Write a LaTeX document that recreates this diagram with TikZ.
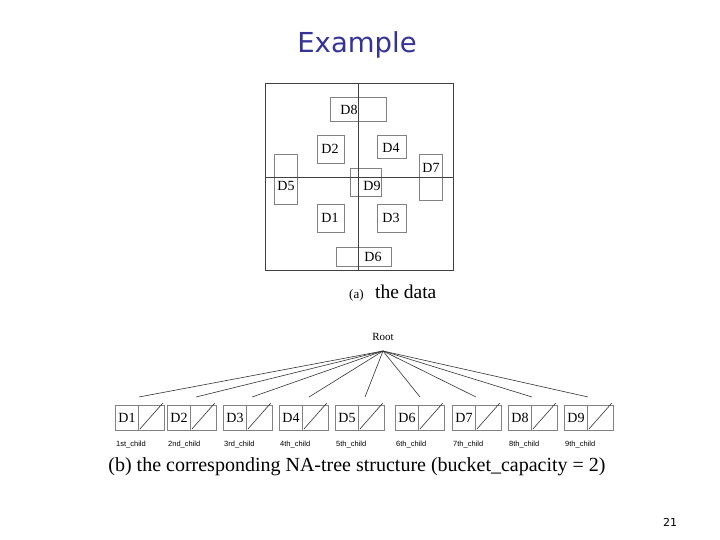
\documentclass[tikz,border=0pt]{standalone}
\usepackage{fontspec}
\setmainfont{Liberation Serif}
\newfontfamily\titlefont{DejaVu Sans}
\newfontfamily\labfont{Liberation Sans}
\definecolor{titleblue}{RGB}{51,51,153}
\definecolor{boxgray}{RGB}{130,130,130}
\begin{document}
\begin{tikzpicture}[x=1pt,y=-1pt,
  qbox/.style={draw=boxgray, line width=0.8pt},
  qline/.style={draw=black!75, line width=0.8pt},
  qlab/.style={inner sep=0pt, font=\fontsize{14}{14}\selectfont},
  cellL/.style={draw=boxgray, line width=0.9pt, minimum width=23pt, minimum height=25pt, inner sep=0pt, anchor=north west, font=\fontsize{14}{14}\selectfont},
  cellR/.style={draw=boxgray, line width=0.9pt, minimum width=26pt, minimum height=25pt, inner sep=0pt, anchor=north west},
  clab/.style={inner sep=0pt, anchor=west, font=\labfont\fontsize{7.5}{7.5}\selectfont},
  edge/.style={draw=black!80, line width=0.6pt}]
\useasboundingbox (0,0) rectangle (720,540);
% title
\node[font=\titlefont\fontsize{27.5}{27.5}\selectfont, text=titleblue] (title) at (357,45) {Example};
% page number
\node[font=\titlefont\fontsize{11}{11}\selectfont] (page) at (670,522) {21};
% (a) the data
\draw[qbox] (330,97) rectangle (386,121);
\draw[qbox] (317,135) rectangle (344,163);
\draw[qbox] (377,135) rectangle (406,158);
\draw[qbox] (274,154) rectangle (297,204);
\draw[qbox] (419,154) rectangle (442,200);
\draw[qbox] (350,168) rectangle (381,196);
\draw[qbox] (317,204) rectangle (344,232);
\draw[qbox] (377,204) rectangle (406,232);
\draw[qbox] (336,247) rectangle (391,266);
\draw[qline] (265,83) rectangle (453,270);
\draw[qline] (358,83) -- (358,270);
\draw[qline] (265,177) -- (453,177);
\node[qlab] (lD8) at (349,110) {D8};
\node[qlab] (lD2) at (330,149) {D2};
\node[qlab] (lD4) at (391,148) {D4};
\node[qlab] (lD5) at (286,186) {D5};
\node[qlab] (lD7) at (431,168) {D7};
\node[qlab] (lD9) at (372,186) {D9};
\node[qlab] (lD1) at (330,218) {D1};
\node[qlab] (lD3) at (391,218) {D3};
\node[qlab] (lD6) at (373,257) {D6};
\node[inner sep=0pt, anchor=base west, font=\fontsize{13}{13}\selectfont] (capa) at (349,298) {(a)};
\node[inner sep=0pt, anchor=base west, font=\fontsize{19.5}{19.5}\selectfont] (capa2) at (375,298) {the data};
% (b) tree
\node[inner sep=0pt, font=\fontsize{11}{11}\selectfont] (root) at (383,337) {Root};
\coordinate (rp) at (383,351);
\foreach \i/\xl/\xe/\lab in {1/115/139/1st, 2/167/196/2nd, 3/223/252/3rd, 4/279/309/4th, 5/335/365/5th, 6/395/420/6th, 7/452/476/7th, 8/508/532/8th, 9/564/588/9th}{
  \node[cellL] (b\i l) at (\xl,405) {D\i};
  \node[cellR] (b\i r) at (\xl+23,405) {};
  \draw[edge] (b\i r.south west) ++(2,-2) -- ([xshift=-2pt,yshift=2pt]b\i r.north east);
  \coordinate (e\i) at (\xe,397);
  \draw[edge] (rp) -- (e\i);
  \node[clab] (c\i) at (\xl+1,445) {\lab\_child};
}
\node[inner sep=0pt, font=\fontsize{20}{20}\selectfont] (capb) at (357,467) {(b) the corresponding NA-tree structure (bucket\_capacity = 2)};
\end{tikzpicture}
\end{document}
